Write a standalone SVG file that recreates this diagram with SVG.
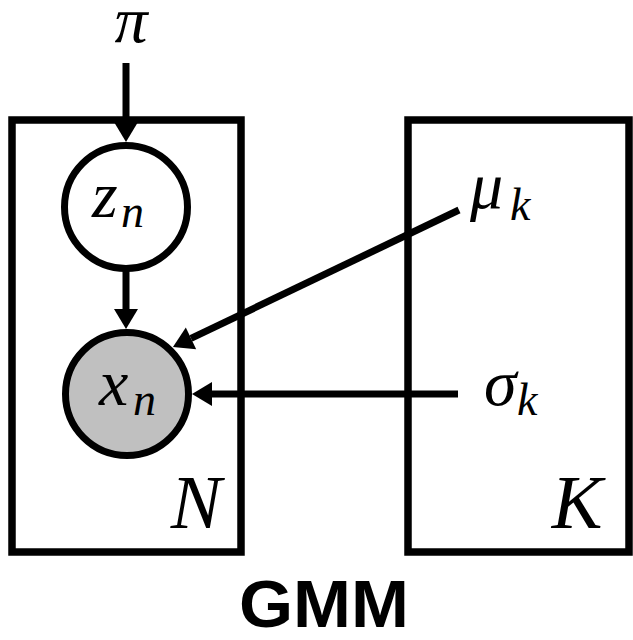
<svg xmlns="http://www.w3.org/2000/svg" width="633" height="640" viewBox="0 0 633 640">
<style>
.plate{fill:none;stroke:#000;stroke-width:7.5}
.node{stroke:#000;stroke-width:7}
.edge{stroke:#000;stroke-width:7;fill:none}
.m{font-family:"Liberation Serif","DejaVu Serif",serif;font-style:italic;fill:#000;font-size:66px}
.s{font-size:46px}
.title{font-family:"Liberation Sans",Arial,sans-serif;font-weight:bold;fill:#000}
</style>
<defs>
<marker id="ah" markerUnits="userSpaceOnUse" markerWidth="22" markerHeight="26" refX="0" refY="12" orient="auto" overflow="visible">
<path d="M0,0 L20,12 L0,24 z" fill="#000"/>
</marker>
</defs>
<g id="plate-N">
<rect class="plate" x="12" y="120" width="229" height="432"/>
<text class="m" x="196" y="528" style="font-size:76px" text-anchor="middle">N</text>
</g>
<g id="plate-K">
<rect class="plate" x="408" y="120" width="221" height="432"/>
<text class="m" x="577" y="528" style="font-size:76px" text-anchor="middle">K</text>
</g>
<g id="connectors">
<line class="edge" x1="126" y1="63" x2="126" y2="122" marker-end="url(#ah)"/>
<line class="edge" x1="126" y1="268" x2="126" y2="309" marker-end="url(#ah)"/>
<line class="edge" x1="459" y1="210" x2="191" y2="338.4" marker-end="url(#ah)"/>
<line class="edge" x1="458" y1="394" x2="212" y2="394" marker-end="url(#ah)"/>
</g>
<g id="pi">
<text class="m" x="131" y="42" text-anchor="middle">π</text>
</g>
<g id="z_n">
<circle class="node" cx="126" cy="207" r="61.5" fill="#fff"/>
<text class="m" x="92" y="217">z</text>
<text class="m s" x="121" y="227">n</text>
</g>
<g id="x_n">
<circle class="node" cx="127" cy="394" r="61.5" fill="#c0c0c0"/>
<text class="m" x="99" y="405">x</text>
<text class="m s" x="133" y="415">n</text>
</g>
<g id="mu_k">
<text class="m" x="470" y="208">μ</text>
<text class="m s" x="510" y="220">k</text>
</g>
<g id="sigma_k">
<text class="m" x="484" y="405">σ</text>
<text class="m s" x="517" y="415">k</text>
</g>
<g id="title">
<text class="title" x="324" y="627" font-size="66" text-anchor="middle" textLength="170" lengthAdjust="spacingAndGlyphs">GMM</text>
</g>
</svg>
